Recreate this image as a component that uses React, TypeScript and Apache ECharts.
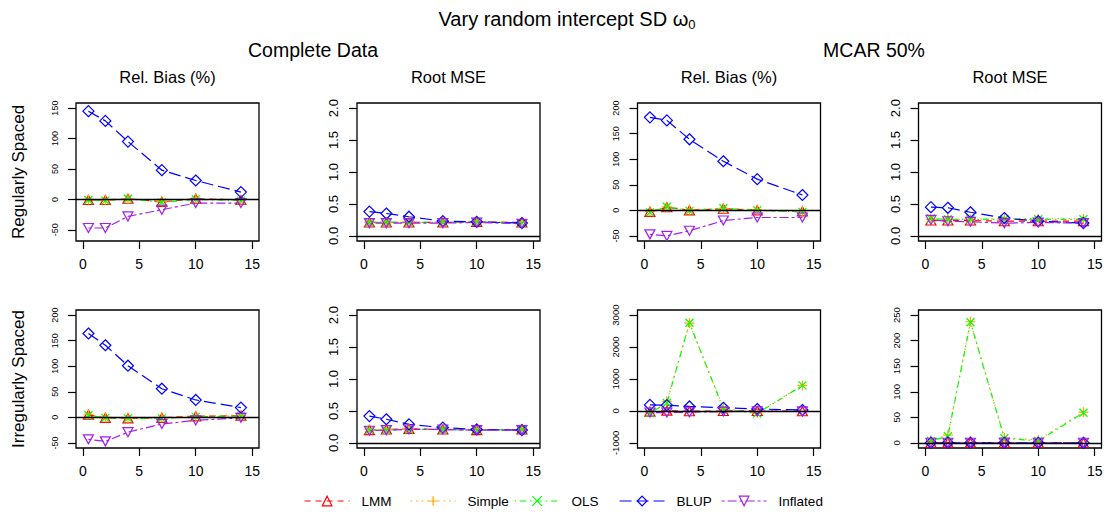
import React, { useEffect, useRef } from "react";
import * as echarts from "echarts";

const FONT = "'Liberation Sans', Arial, Helvetica, sans-serif";

// ---------- data ----------
const xValues = [0.5, 2, 4, 7, 10, 14];
const xTicks = [0, 5, 10, 15];
const xLim = [0, 15];
const methods = ["LMM", "Simple", "OLS", "BLUP", "Inflated"];

// Complete data, regularly spaced
const compRegBias = {
  LMM: [-1, -1, 1, -4, 1, -1],
  Simple: [0, -1, 1, -3, 2, -1],
  OLS: [-1, -2, 1, -5, 0, -2],
  BLUP: [145, 129, 95, 48, 31, 12],
  Inflated: [-47, -47, -28, -17, -6, -6],
};
const compRegRmse = {
  LMM: [0.21, 0.21, 0.21, 0.21, 0.22, 0.21],
  Simple: [0.21, 0.21, 0.22, 0.21, 0.22, 0.21],
  OLS: [0.21, 0.21, 0.21, 0.21, 0.22, 0.2],
  BLUP: [0.38, 0.35, 0.3, 0.23, 0.22, 0.2],
  Inflated: [0.2, 0.2, 0.2, 0.2, 0.21, 0.19],
};
// MCAR 50%, regularly spaced
const mcarRegBias = {
  LMM: [-3, 6, 0, 3, 0, -2],
  Simple: [-2, 7, 1, 4, 1, -1],
  OLS: [-4, 7, -1, 4, 0, -3],
  BLUP: [182, 176, 139, 96, 61, 30],
  Inflated: [-47, -50, -40, -20, -14, -14],
};
const mcarRegRmse = {
  LMM: [0.24, 0.24, 0.24, 0.23, 0.23, 0.23],
  Simple: [0.26, 0.26, 0.26, 0.27, 0.27, 0.27],
  OLS: [0.27, 0.26, 0.26, 0.26, 0.26, 0.26],
  BLUP: [0.45, 0.44, 0.37, 0.28, 0.23, 0.2],
  Inflated: [0.25, 0.23, 0.22, 0.2, 0.21, 0.2],
};
// Complete data, irregularly spaced
const compIrrBias = {
  LMM: [5, -1, -2, -1, 2, 3],
  Simple: [6, 0, -1, 0, 3, 4],
  OLS: [4, -1, -2, -2, 1, 3],
  BLUP: [164, 141, 101, 56, 34, 19],
  Inflated: [-43, -47, -29, -13, -6, -1],
};
const compIrrRmse = {
  LMM: [0.2, 0.21, 0.22, 0.21, 0.2, 0.21],
  Simple: [0.21, 0.21, 0.22, 0.21, 0.21, 0.21],
  OLS: [0.2, 0.2, 0.21, 0.21, 0.2, 0.21],
  BLUP: [0.42, 0.37, 0.29, 0.24, 0.21, 0.2],
  Inflated: [0.19, 0.2, 0.21, 0.21, 0.2, 0.2],
};
// MCAR 50%, irregularly spaced
const mcarIrrBias = {
  LMM: [-20, 10, -10, 0, 0, -10],
  Simple: [-40, 300, 2750, 80, -60, 800],
  OLS: [-70, 250, 2760, 60, -80, 800],
  BLUP: [190, 180, 140, 100, 60, 30],
  Inflated: [-50, -50, -40, -20, -15, -15],
};
const mcarIrrRmse = {
  LMM: [0.3, 0.5, 0.4, 0.3, 0.3, 0.3],
  Simple: [5, 15, 237, 10, 6, 60],
  OLS: [4, 13, 236, 9, 4, 59],
  BLUP: [0.45, 0.44, 0.37, 0.28, 0.23, 0.2],
  Inflated: [0.25, 0.23, 0.22, 0.2, 0.21, 0.2],
};

const biasTicks = [-50, 0, 50, 100, 150];
const biasTicks2 = [-50, 0, 50, 100, 150, 200];
const rmseTicks = [0, 0.5, 1, 1.5, 2];
const bigBiasTicks = [-1000, 0, 1000, 2000, 3000];
const bigRmseTicks = [0, 50, 100, 150, 200, 250];

// panels in reading order (row by row)
const panels = [
  { data: compRegBias, yLim: [-60, 150], yTicks: biasTicks, digits: 0, labelSize: 9 },
  { data: compRegRmse, yLim: [0, 2], yTicks: rmseTicks, digits: 1, labelSize: 13 },
  { data: mcarRegBias, yLim: [-50, 200], yTicks: biasTicks2, digits: 0, labelSize: 9 },
  { data: mcarRegRmse, yLim: [0, 2], yTicks: rmseTicks, digits: 1, labelSize: 13 },
  { data: compIrrBias, yLim: [-50, 200], yTicks: biasTicks2, digits: 0, labelSize: 9 },
  { data: compIrrRmse, yLim: [0, 2], yTicks: rmseTicks, digits: 1, labelSize: 13 },
  { data: mcarIrrBias, yLim: [-1000, 3000], yTicks: bigBiasTicks, digits: 0, labelSize: 9.5 },
  { data: mcarIrrRmse, yLim: [0, 250], yTicks: bigRmseTicks, digits: 0, labelSize: 9.5 },
];

// ---------- styling ----------
const colors = ["#FF0000", "#FFA500", "#00FF00", "#0000FF", "#A020F0"];
const dashes: number[][] = [
  [6, 5],
  [1.5, 4],
  [1.5, 4, 6, 4],
  [12, 5],
  [3, 3, 9, 3],
];
const symbols = [
  "triangle",
  "path://M5,0L5,10M0,5L10,5",
  "path://M0,0L10,10M10,0L0,10",
  "diamond",
  "path://M0,0L10,0L5,8.66Z",
];
const symbolSizes: any[] = [[10, 9], 10, 8, [11, 11], [10, 9]];

const gridLefts = [76, 357, 637.5, 918.5];
const gridTops = [103, 310];
const GRID_W = 183;
const GRID_H = 138;
const legendLefts = [304, 410, 514, 619, 721];

function buildOption() {
  const grid: any[] = [];
  const xAxis: any[] = [];
  const yAxis: any[] = [];
  const series: any[] = [];

  panels.forEach((p, i) => {
    const row = Math.floor(i / 4);
    const col = i % 4;
    grid.push({
      left: gridLefts[col],
      top: gridTops[row],
      width: GRID_W,
      height: GRID_H,
      show: true,
      borderColor: "#000",
      borderWidth: 1.3,
      backgroundColor: "transparent",
    });
    const xPad = (xLim[1] - xLim[0]) * 0.04;
    xAxis.push({
      type: "value",
      gridIndex: i,
      min: xLim[0] - xPad,
      max: xLim[1] + xPad,
      axisLine: { show: false, onZero: false },
      splitLine: { show: false },
      axisTick: {
        show: true,
        inside: false,
        length: 8,
        customValues: xTicks,
        lineStyle: { color: "#000", width: 1.2 },
      },
      axisLabel: {
        show: true,
        customValues: xTicks,
        margin: 16,
        fontSize: 14,
        color: "#000",
        fontFamily: FONT,
      },
    });
    const yPad = (p.yLim[1] - p.yLim[0]) * 0.04;
    yAxis.push({
      type: "value",
      gridIndex: i,
      min: p.yLim[0] - yPad,
      max: p.yLim[1] + yPad,
      axisLine: { show: false, onZero: false },
      splitLine: { show: false },
      axisTick: {
        show: true,
        inside: false,
        length: 8,
        customValues: p.yTicks,
        lineStyle: { color: "#000", width: 1.2 },
      },
      axisLabel: {
        show: true,
        customValues: p.yTicks,
        rotate: 90,
        margin: 17,
        fontSize: p.labelSize,
        color: "#000",
        fontFamily: FONT,
        formatter: (v: number) => (p.digits ? Number(v).toFixed(p.digits) : String(Math.round(v))),
      },
    });
    methods.forEach((m, k) => {
      const vals = (p.data as any)[m] as number[];
      const s: any = {
        type: "line",
        name: m,
        xAxisIndex: i,
        yAxisIndex: i,
        data: xValues.map((x, j) => [x, vals[j]]),
        symbol: symbols[k],
        symbolSize: symbolSizes[k],
        lineStyle: { color: colors[k], width: 1.2, type: dashes[k] },
        itemStyle: { color: "transparent", borderColor: colors[k], borderWidth: 1.2 },
        emphasis: { disabled: true },
        silent: true,
        clip: false,
      };
      if (k === 0) {
        s.markLine = {
          silent: true,
          symbol: ["none", "none"],
          label: { show: false },
          lineStyle: { color: "#000", type: "solid", width: 1.3 },
          data: [{ yAxis: 0 }],
        };
      }
      series.push(s);
    });
  });

  const legend = methods.map((m, k) => ({
    data: [m],
    left: legendLefts[k],
    top: 494,
    padding: 0,
    itemWidth: 45,
    itemHeight: 12,
    selectedMode: false,
    itemStyle: { borderWidth: 1.2 },
    lineStyle: { width: 1.2 },
    textStyle: { fontSize: 13.5, color: "#000", fontFamily: FONT, padding: [0, 0, 0, 7] },
  }));

  const txt = (x: number, y: number, text: string, size: number, rotation = 0) => ({
    type: "text",
    x,
    y,
    rotation,
    silent: true,
    style: {
      text,
      fontSize: size,
      fontFamily: FONT,
      fill: "#000",
      align: "center",
      verticalAlign: "middle",
    },
  });

  const graphic: any[] = [
    {
      type: "text",
      x: 567,
      y: 19,
      silent: true,
      style: {
        text: "{a|Vary random intercept SD ω}{b|0}",
        align: "center",
        verticalAlign: "middle",
        rich: {
          a: { fontSize: 20, fontFamily: FONT, fill: "#000" },
          b: { fontSize: 13, fontFamily: FONT, fill: "#000", padding: [10, 0, 0, 0] },
        },
      },
    },
    txt(313, 50, "Complete Data", 19.5),
    txt(874, 50, "MCAR 50%", 19.5),
    txt(18.5, 172, "Regularly Spaced", 17, Math.PI / 2),
    txt(18.5, 379, "Irregularly Spaced", 17, Math.PI / 2),
  ];
  ["Rel. Bias (%)", "Root MSE", "Rel. Bias (%)", "Root MSE"].forEach((t, c) => {
    graphic.push(txt(gridLefts[c] + GRID_W / 2, 77, t, 16.5));
  });

  return {
    animation: false,
    backgroundColor: "#fff",
    textStyle: { fontFamily: FONT },
    grid,
    xAxis,
    yAxis,
    series,
    legend,
    graphic,
  };
}

export default function App() {
  const ref = useRef<HTMLDivElement>(null);
  useEffect(() => {
    if (!ref.current) return;
    const chart = echarts.init(ref.current, undefined, { renderer: "svg" });
    chart.setOption(buildOption() as any);
    return () => chart.dispose();
  }, []);
  return (
    <div
      ref={ref}
      style={{ position: "absolute", left: 0, top: 0, width: 1107, height: 514 }}
    />
  );
}
